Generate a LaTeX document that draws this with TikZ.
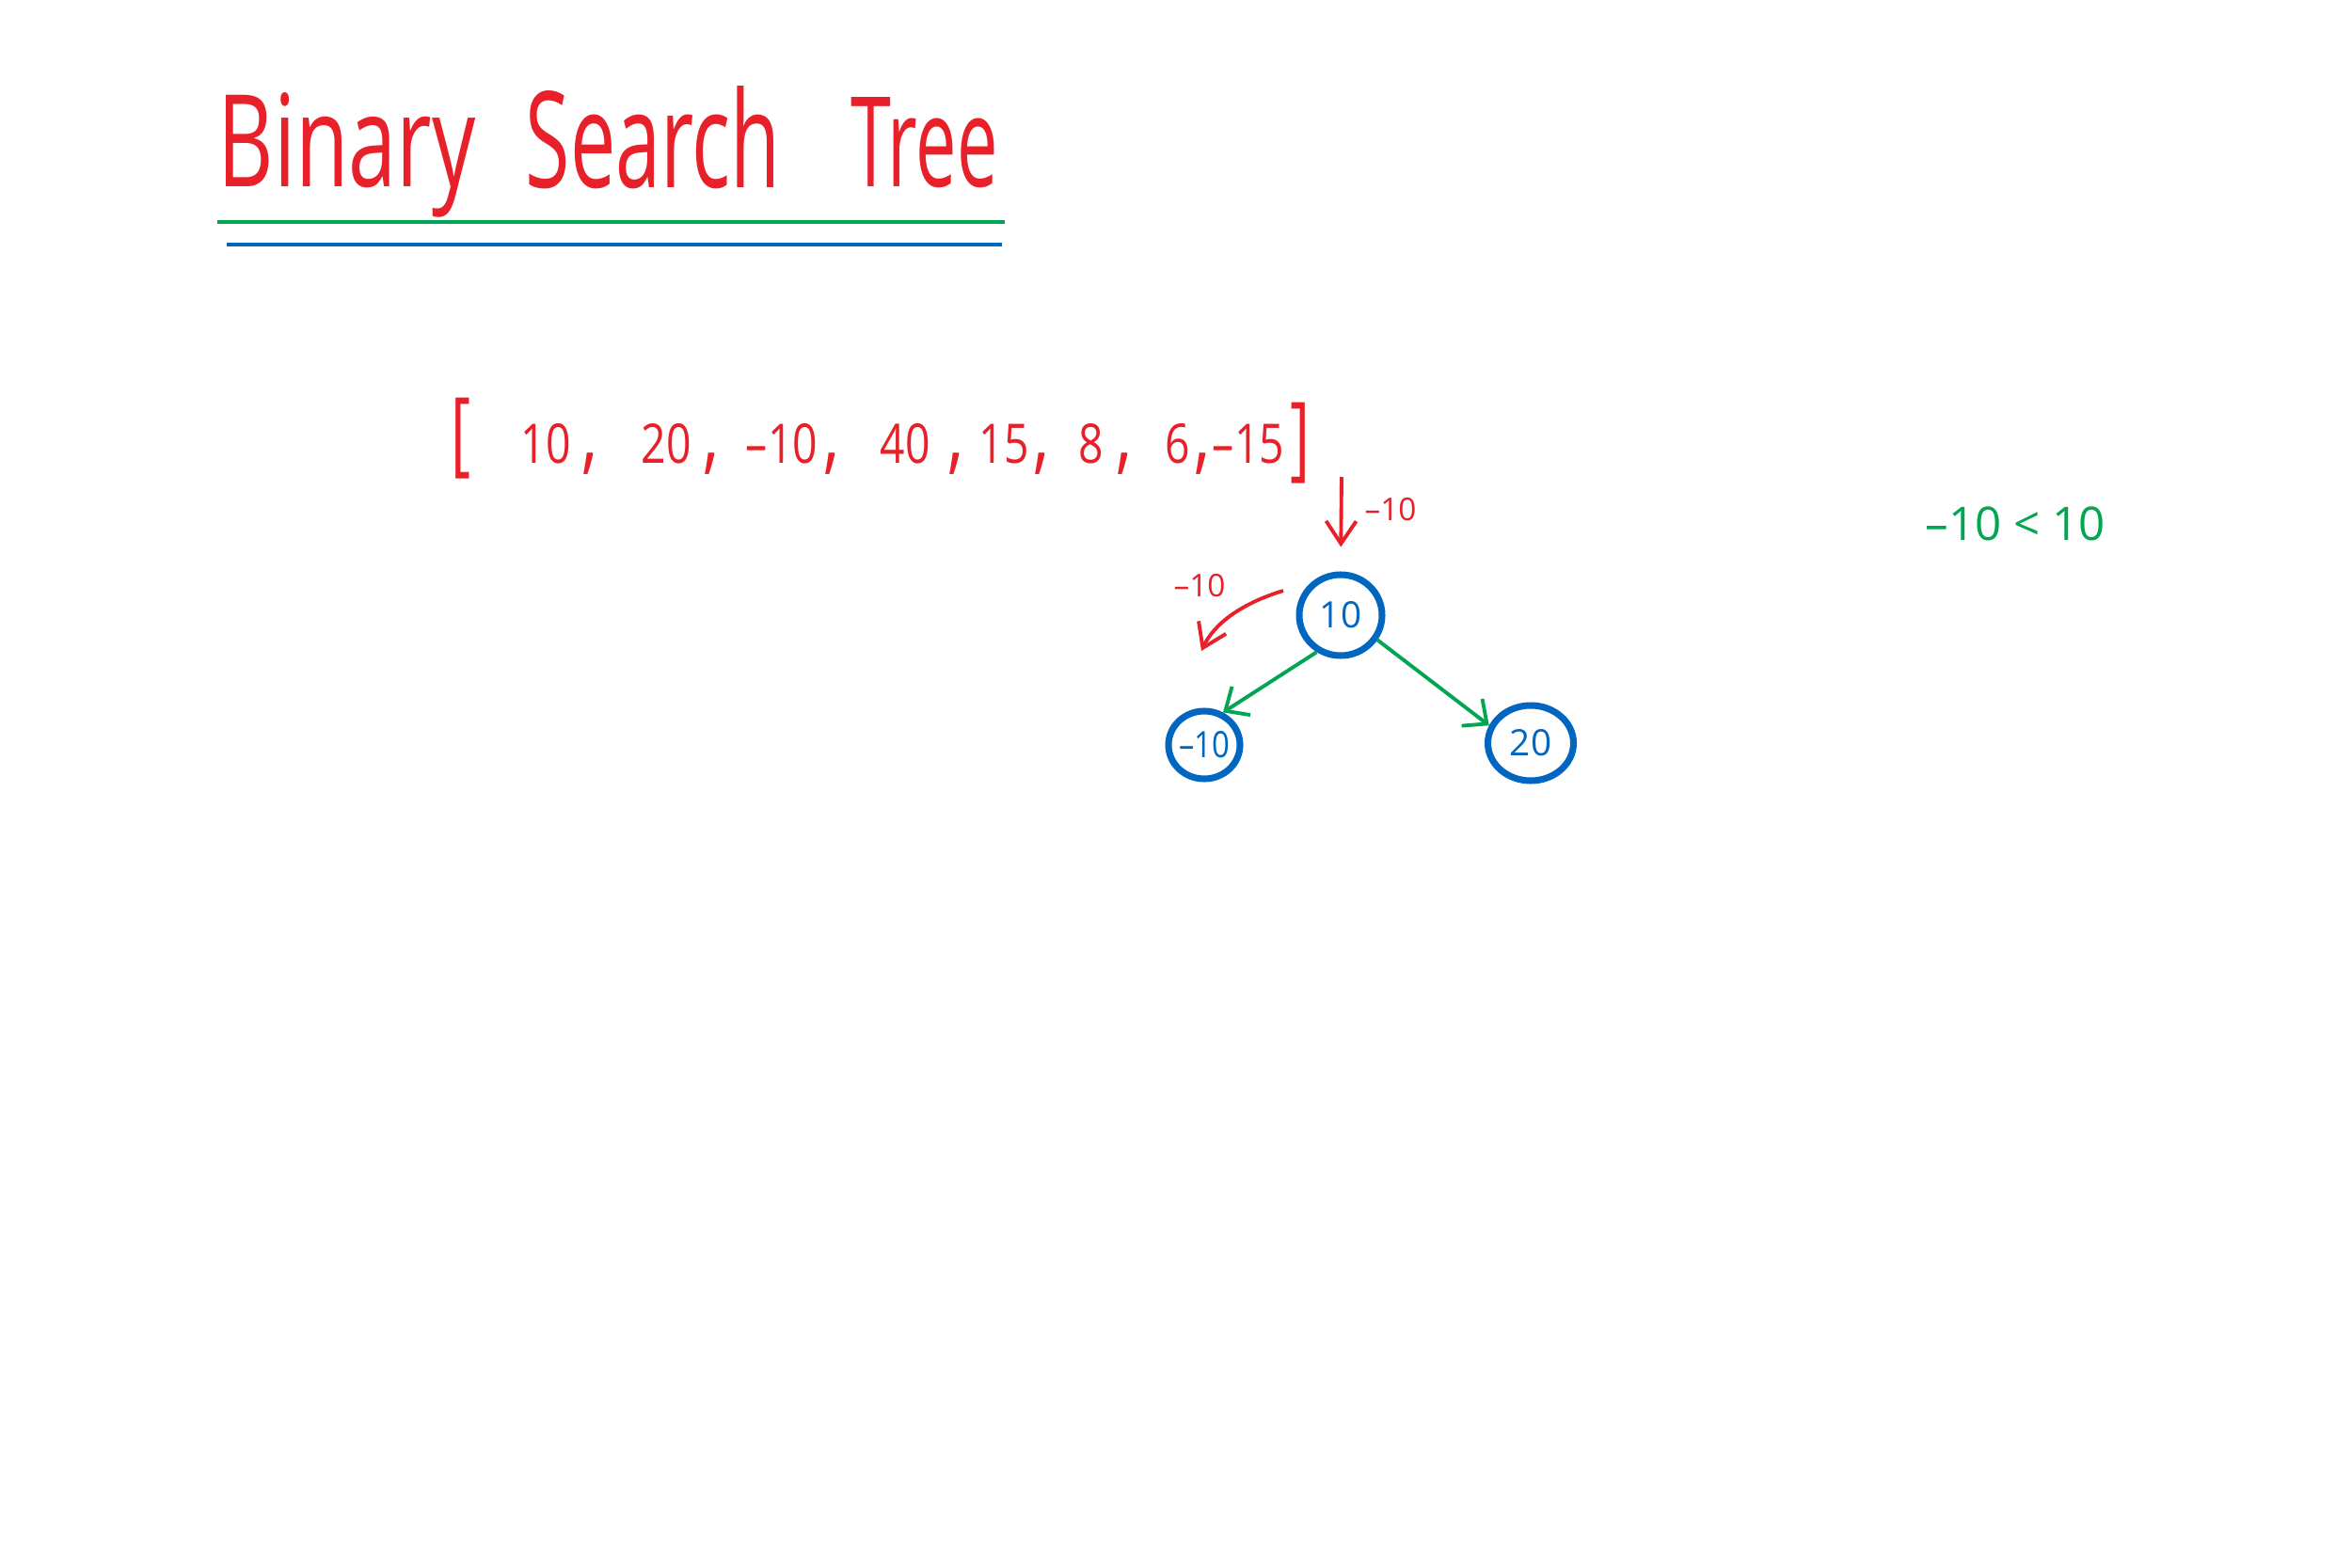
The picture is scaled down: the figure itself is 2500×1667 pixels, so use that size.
\documentclass[tikz,border=0pt]{standalone}
\usepackage{fontspec}
\setmainfont{Open Sans}
\usetikzlibrary{arrows.meta,shapes.geometric}
\definecolor{inkred}{HTML}{E8202A}
\definecolor{inkgreen}{HTML}{00A651}
\definecolor{inkblue}{HTML}{0066BF}
\newcommand\narrowtxt[1]{\scalebox{0.8}[1]{#1}}
\newcommand\commatxt{\scalebox{1.2}[1.6]{,}}
\tikzset{
  titletext/.style={text=inkred, inner sep=0pt, font=\fontsize{27}{30}\selectfont},
  arrtext/.style={text=inkred, inner sep=0pt, font=\fontsize{16.5}{19}\selectfont},
  lbltext/.style={text=inkred, inner sep=0pt, font=\fontsize{9.5}{11}\selectfont},
  cmptext/.style={text=inkgreen, inner sep=0pt, font=\fontsize{14}{16}\selectfont},
  bstnode/.style={ellipse, draw=inkblue, line width=2pt, text=inkblue, inner sep=0pt, font=\fontsize{11}{13}\selectfont},
  ruleline/.style={line width=0.9pt},
  edge/.style={draw=inkgreen, line width=1.1pt, -{Straight Barb[length=2mm,width=3.6mm]}},
  redarrow/.style={draw=inkred, line width=1.1pt, -{Straight Barb[length=2.4mm,width=3.2mm]}}
}
\begin{document}
\begin{tikzpicture}[x=0.1mm,y=-0.1mm]
\fill[white] (0,0) rectangle (2500,1667);
\useasboundingbox (0,0) rectangle (2500,1667);

% title
\node[titletext, anchor=base west] (t1) at (231,199) {\resizebox{27.4mm}{10mm}{Binary}};
\node[titletext, anchor=base west] (t2) at (558,199) {\resizebox{27.1mm}{10.8mm}{Search}};
\node[titletext, anchor=base west] (t3) at (904,199) {\resizebox{15.6mm}{9.5mm}{Tree}};

% underlines
\coordinate (g1) at (231,236);
\coordinate (g2) at (1068,236);
\coordinate (b1) at (241,260);
\coordinate (b2) at (1065,260);
\draw[ruleline, inkgreen] (g1) -- (g2);
\draw[ruleline, inkblue] (b1) -- (b2);

% array
\node[arrtext] (lb) at (490,466) {\scalebox{1.1}[1.7]{[}};
\node[arrtext, anchor=base] (a1) at (580,492) {\narrowtxt{10}};
\node[arrtext, anchor=base] (c1) at (627,492) {\commatxt};
\node[arrtext, anchor=base] (a2) at (708,492) {\narrowtxt{20}};
\node[arrtext, anchor=base] (c2) at (756,492) {\commatxt};
\node[arrtext, anchor=base] (a3) at (831,492) {\narrowtxt{–10}};
\node[arrtext, anchor=base] (c3) at (884,492) {\commatxt};
\node[arrtext, anchor=base] (a4) at (962,492) {\narrowtxt{40}};
\node[arrtext, anchor=base] (c4) at (1016,492) {\commatxt};
\node[arrtext, anchor=base] (a5) at (1067,492) {\narrowtxt{15}};
\node[arrtext, anchor=base] (c5) at (1107,492) {\commatxt};
\node[arrtext, anchor=base] (a6) at (1160,492) {\narrowtxt{8}};
\node[arrtext, anchor=base] (c6) at (1195,492) {\commatxt};
\node[arrtext, anchor=base] (a7) at (1252,492) {\narrowtxt{6}};
\node[arrtext, anchor=base] (c7) at (1278,492) {\commatxt};
\node[arrtext, anchor=base] (a8) at (1327,492) {\narrowtxt{–15}};
\node[arrtext] (rb) at (1382,471) {\scalebox{1.1}[1.7]{]}};

% tree nodes
\node[bstnode, minimum width=8.8mm, minimum height=8.6mm] (n10) at (1425,654) {\makebox[0pt]{10}};
\node[bstnode, minimum width=7.6mm, minimum height=7.2mm] (nm10) at (1280,792) {\makebox[0pt]{\scalebox{0.85}[1]{–10}}};
\node[bstnode, minimum width=9.1mm, minimum height=8.0mm] (n20) at (1627,790) {\makebox[0pt]{20}};

% insertion arrows
\coordinate (d1) at (1426,507);
\draw[redarrow, shorten >=2.6mm] (d1) -- (n10.north);
\node[lbltext] (l1) at (1478,542) {–10};

\coordinate (s1) at (1364,628);
\coordinate (s2) at (1277,692);
\draw[redarrow] (s1) .. controls (1318,642) and (1290,664) .. (s2);
\node[lbltext] (l2) at (1275,623) {–10};

% edges
\draw[edge] (n10.237) -- (nm10.60);
\draw[edge] (n10.326) -- (n20.157);

% comparison
\node[cmptext] (cmp) at (2142,557) {–10 < 10};
\end{tikzpicture}
\end{document}
